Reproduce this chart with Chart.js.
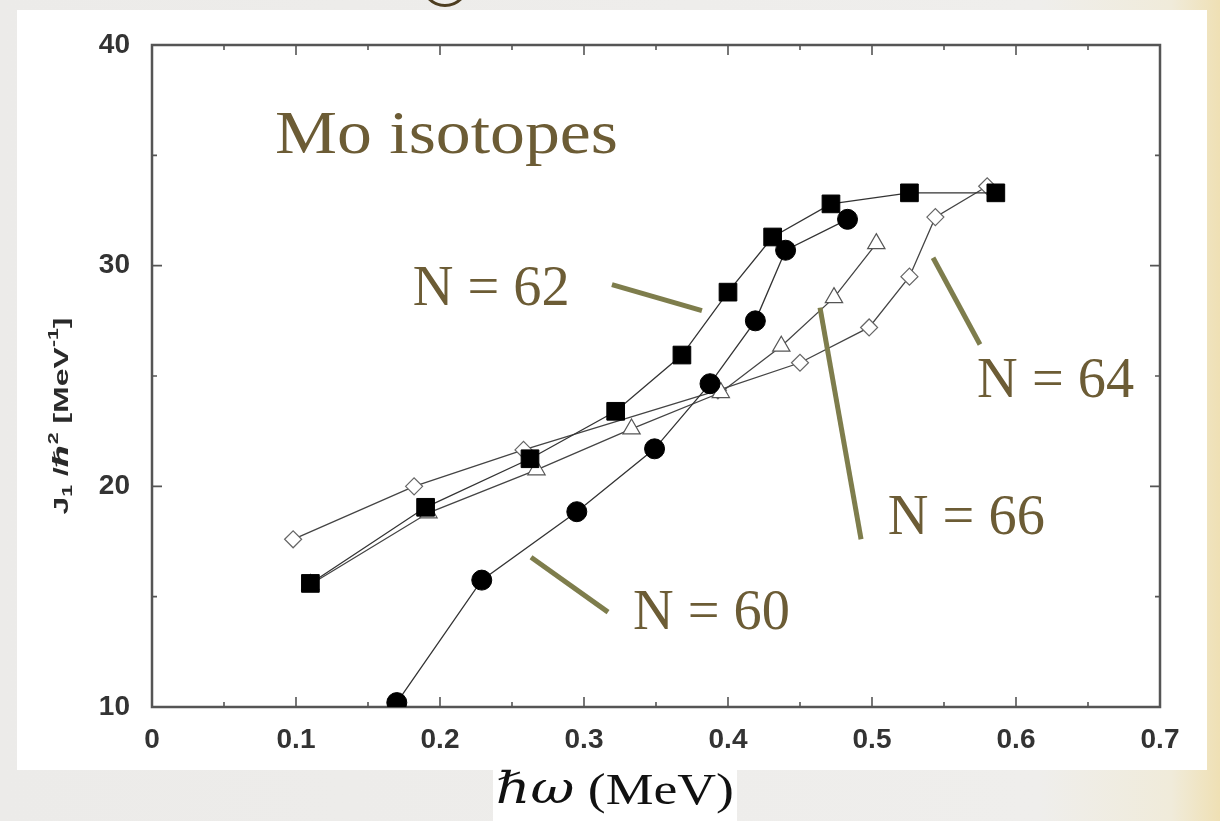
<!DOCTYPE html>
<html><head><meta charset="utf-8">
<script src="https://cdn.jsdelivr.net/npm/chart.js@4.4.1/dist/chart.umd.min.js"></script>
<style>
html,body{margin:0;padding:0;}
body{width:1220px;height:821px;overflow:hidden;position:relative;
background:linear-gradient(to right,#ecebe9 0%,#efeeec 85%,#f0ebda 96%,#efe0b4 100%);}
#panel{position:absolute;left:17px;top:10px;width:1190px;height:760px;background:#fff;}
#xbox{position:absolute;left:493px;top:765px;width:244px;height:56px;background:#fff;}
#ring{position:absolute;left:421px;top:-41px;width:48px;height:48px;box-sizing:border-box;border:3px solid #4d3d20;border-radius:50%;}
canvas{position:absolute;left:0;top:0;}
</style></head>
<body>
<div id="panel"></div><div id="xbox"></div><div id="ring"></div>
<canvas id="c" width="1220" height="821"></canvas>
<script>
// ---- data ----
const n60X = [0.170, 0.229, 0.295, 0.349, 0.3875, 0.419, 0.440, 0.483];
const n60Y = [10.2, 15.75, 18.85, 21.7, 24.65, 27.5, 30.7, 32.1];
const n62X = [0.110, 0.190, 0.2625, 0.322, 0.368, 0.400, 0.431, 0.4715, 0.526, 0.586];
const n62Y = [15.6, 19.05, 21.25, 23.4, 25.95, 28.8, 31.3, 32.8, 33.3, 33.3];
const n64X = [0.098, 0.182, 0.258, 0.393, 0.450, 0.498, 0.526, 0.544, 0.580];
const n64Y = [17.6, 20.0, 21.65, 24.35, 25.6, 27.2, 29.5, 32.2, 33.6];
const n66X = [0.110, 0.192, 0.267, 0.333, 0.395, 0.437, 0.4736, 0.503];
const n66Y = [15.55, 18.8, 20.75, 22.6, 24.25, 26.35, 28.55, 31.0];
const xTickLabels = ['0','0.1','0.2','0.3','0.4','0.5','0.6','0.7'];
const yTickLabels = ['10','20','30','40'];
const seriesNames = ['N = 60','N = 62','N = 66','N = 64'];
// annotation labels: [text, left x, centre y] in data units
const labelTexts = ['N = 62','N = 64','N = 66','N = 60'];
const labelX = [0.181, 0.573, 0.511, 0.334];
const labelY = [28.9, 24.7, 18.5, 14.2];
// pointer lines: x1,y1,x2,y2 in data units
const pointerX1 = [0.3194, 0.5424, 0.4639, 0.2632];
const pointerY1 = [29.14, 30.36, 28.1, 16.79];
const pointerX2 = [0.3819, 0.575, 0.4924, 0.3167];
const pointerY2 = [27.96, 26.43, 17.6, 14.3];
const titleText = 'Mo isotopes';
const titleX = 0.0854, titleY = 35.85;

function pts(xs, ys){ return xs.map((x,i)=>({x:x, y:ys[i]})); }

const SERIF = '"Liberation Serif","DejaVu Serif",serif';
const SANS = '"Liberation Sans","DejaVu Sans",Arial,sans-serif';
const BROWN = '#6c5c35';
const OLIVE = '#7e7d4c';

function fitText(ctx, text, x, y, width, font, color){
  ctx.save();
  ctx.font = font;
  const w = ctx.measureText(text).width;
  ctx.translate(x, y);
  ctx.scale(width / w, 1);
  ctx.fillStyle = color; ctx.textBaseline = 'middle'; ctx.textAlign = 'left';
  ctx.fillText(text, 0, 0);
  ctx.restore();
}

function richText(ctx, segs, length){
  let total = 0;
  segs.forEach(s=>{ ctx.font = s.font; s.w = ctx.measureText(s.t).width; total += s.w; });
  const k = length / total;
  ctx.scale(k, 1);
  let cx = -total/2;
  segs.forEach(s=>{ ctx.font = s.font; ctx.fillText(s.t, cx, s.dy||0); cx += s.w; });
}

const framePlugin = {
  id:'frame',
  beforeDatasetsDraw(chart){
    const {ctx, chartArea:a, scales:{x, y}} = chart;
    ctx.save();
    ctx.strokeStyle = '#555'; ctx.lineWidth = 2.5;
    ctx.strokeRect(a.left, a.top, a.right - a.left, a.bottom - a.top);
    ctx.lineWidth = 1.6;
    ctx.beginPath();
    for (let i = 1; i < 14; i++){
      const v = i * 0.05, px = x.getPixelForValue(v), L = (i % 2 === 0) ? 10 : 5;
      ctx.moveTo(px, a.bottom); ctx.lineTo(px, a.bottom - L);
      ctx.moveTo(px, a.top); ctx.lineTo(px, a.top + L);
    }
    for (let i = 1; i < 6; i++){
      const v = 10 + i * 5, py = y.getPixelForValue(v), L = (i % 2 === 0) ? 10 : 5;
      ctx.moveTo(a.left, py); ctx.lineTo(a.left + L, py);
      ctx.moveTo(a.right, py); ctx.lineTo(a.right - L, py);
    }
    ctx.stroke();
    ctx.restore();
  },
  afterDatasetsDraw(chart){
    const {ctx, scales:{x, y}} = chart;
    ctx.save();
    ctx.strokeStyle = OLIVE; ctx.lineWidth = 5; ctx.lineCap = 'butt';
    for (let i = 0; i < pointerX1.length; i++){
      ctx.beginPath();
      ctx.moveTo(x.getPixelForValue(pointerX1[i]), y.getPixelForValue(pointerY1[i]));
      ctx.lineTo(x.getPixelForValue(pointerX2[i]), y.getPixelForValue(pointerY2[i]));
      ctx.stroke();
    }
    for (let i = 0; i < labelTexts.length; i++){
      fitText(ctx, labelTexts[i], x.getPixelForValue(labelX[i]), y.getPixelForValue(labelY[i]), 157, '56px ' + SERIF, BROWN);
    }
    fitText(ctx, titleText, x.getPixelForValue(titleX), y.getPixelForValue(titleY), 343, '62px ' + SERIF, BROWN);
    ctx.restore();
  },
  afterDraw(chart){
    const {ctx} = chart;
    // y axis title
    ctx.save();
    ctx.translate(68, 416);
    ctx.rotate(-Math.PI/2);
    ctx.fillStyle = '#2a2a2a'; ctx.textBaseline = 'alphabetic'; ctx.textAlign = 'left';
    const big = 'bold 21px ' + SANS, small = 'bold 14px ' + SANS;
    richText(ctx, [
      {t:'J', font:big}, {t:'1', font:small, dy:4}, {t:' /', font:big},
      {t:'\u210F', font:'italic bold 21px "DejaVu Sans",sans-serif'}, {t:'2', font:small, dy:-10},
      {t:' [MeV', font:big}, {t:'-1', font:small, dy:-10}, {t:']', font:big}
    ], 197);
    ctx.restore();
    // x axis title
    ctx.save();
    ctx.translate(615, 792);
    ctx.fillStyle = '#111'; ctx.textBaseline = 'middle'; ctx.textAlign = 'left';
    richText(ctx, [
      {t:'\u210F\u03C9', font:'italic 44px "DejaVu Serif",serif'},
      {t:' (MeV)', font:'44px ' + SERIF}
    ], 238);
    ctx.restore();
  }
};

const common = {showLine:true, borderWidth:1.3, tension:0, fill:false};
new Chart(document.getElementById('c'), {
  type:'line',
  data:{ datasets:[
    Object.assign({label:seriesNames[0], data:pts(n60X,n60Y), pointStyle:'circle', pointRadius:10,
      pointBackgroundColor:'#000', pointBorderColor:'#000', pointBorderWidth:1, borderColor:'#333'}, common),
    Object.assign({label:seriesNames[1], data:pts(n62X,n62Y), pointStyle:'rect', pointRadius:12.5,
      pointBackgroundColor:'#000', pointBorderColor:'#000', pointBorderWidth:1, borderColor:'#333'}, common),
    Object.assign({label:seriesNames[2], data:pts(n66X,n66Y), pointStyle:'triangle', pointRadius:10,
      pointBackgroundColor:'#fff', pointBorderColor:'#555', pointBorderWidth:1.2, borderColor:'#444'}, common),
    Object.assign({label:seriesNames[3], data:pts(n64X,n64Y), pointStyle:'rectRot', pointRadius:8.5,
      pointBackgroundColor:'#fff', pointBorderColor:'#666', pointBorderWidth:1.2, borderColor:'#444'}, common)
  ]},
  options:{
    responsive:false, animation:false, devicePixelRatio:1,
    layout:{padding:{left:0, top:45, right:60, bottom:0}},
    plugins:{legend:{display:false}, tooltip:{enabled:false}},
    scales:{
      x:{type:'linear', min:0, max:0.7,
        afterFit(s){ s.height = 114; },
        grid:{display:false, drawTicks:false},
        border:{display:false},
        ticks:{stepSize:0.1, padding:16, color:'#333', maxRotation:0,
          font:{family:SANS, size:28, weight:'bold'},
          callback:(v)=> xTickLabels[Math.round(v*10)]}},
      y:{type:'linear', min:10, max:40,
        afterFit(s){ s.width = 152; },
        grid:{display:false, drawTicks:false},
        border:{display:false},
        ticks:{stepSize:10, padding:22, color:'#333',
          font:{family:SANS, size:28, weight:'bold'},
          callback:(v)=> yTickLabels[Math.round((v-10)/10)]}}
    }
  },
  plugins:[framePlugin]
});
</script></body></html>
